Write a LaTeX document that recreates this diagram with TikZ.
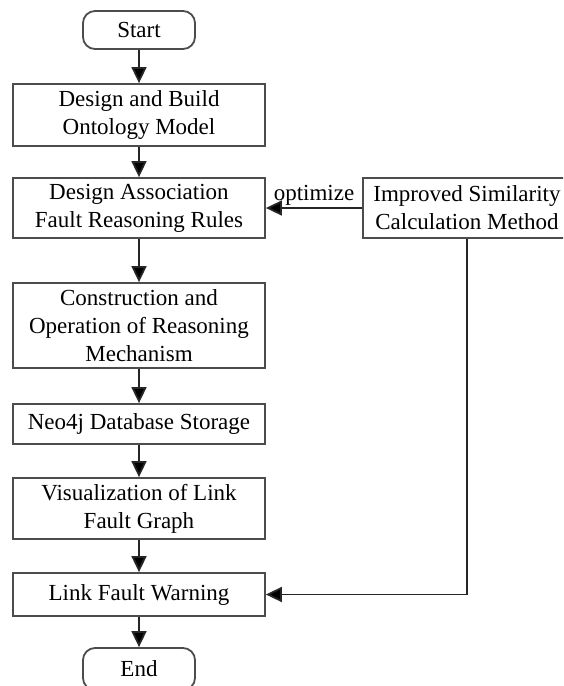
\documentclass[tikz,border=0pt]{standalone}
\usepackage{fontspec}
\setmainfont{Liberation Serif}
\usetikzlibrary{arrows.meta}
\begin{document}
\begin{tikzpicture}[x=1pt,y=1pt,
  box/.style={draw=black!70, line width=1.8pt, fill=white, minimum width=252pt,
    align=center, inner sep=0pt, font=\fontsize{23}{28}\selectfont},
  term/.style={box, rounded corners=12pt, minimum width=112pt},
  conn/.style={draw=black!85, line width=1.8pt, -{Triangle[length=16pt,width=15pt,fill=black]}},
  lbl/.style={font=\fontsize{23}{28}\selectfont, inner sep=1pt}
]
\useasboundingbox (0,0) rectangle (563,-686);
\clip (0,0) rectangle (563,-686);
\node[term, minimum height=38pt] (start) at (139,-30) {Start};
\node[box, minimum height=62pt] (b1) at (139,-115) {Design and Build\\Ontology Model};
\node[box, minimum height=60pt] (b2) at (139,-208) {Design Association\\Fault Reasoning Rules};
\node[box, minimum height=85pt] (b3) at (139,-325.5) {Construction and\\Operation of Reasoning\\Mechanism};
\node[box, minimum height=40pt] (b4) at (139,-424) {Neo4j Database Storage};
\node[box, minimum height=61pt] (b5) at (139,-508.5) {Visualization of Link\\Fault Graph};
\node[box, minimum height=43pt] (b6) at (139,-594.5) {Link Fault Warning};
\node[term, minimum height=42pt] (end) at (139,-669) {End};
\node[box, minimum width=208pt, minimum height=60pt] (sim) at (467,-208) {Improved Similarity\\Calculation Method};
\coordinate (corner) at (sim.south |- b6.east);
\draw[conn] (start) -- (b1);
\draw[conn] (b1) -- (b2);
\draw[conn] (b2) -- (b3);
\draw[conn] (b3) -- (b4);
\draw[conn] (b4) -- (b5);
\draw[conn] (b5) -- (b6);
\draw[conn] (b6) -- (end);
\draw[conn] (sim.west) -- node[lbl, anchor=south, pos=0.5, yshift=1pt] (opt) {optimize} (b2.east);
\draw[conn] (sim.south) -- (corner) -- (b6.east);
\end{tikzpicture}
\end{document}
